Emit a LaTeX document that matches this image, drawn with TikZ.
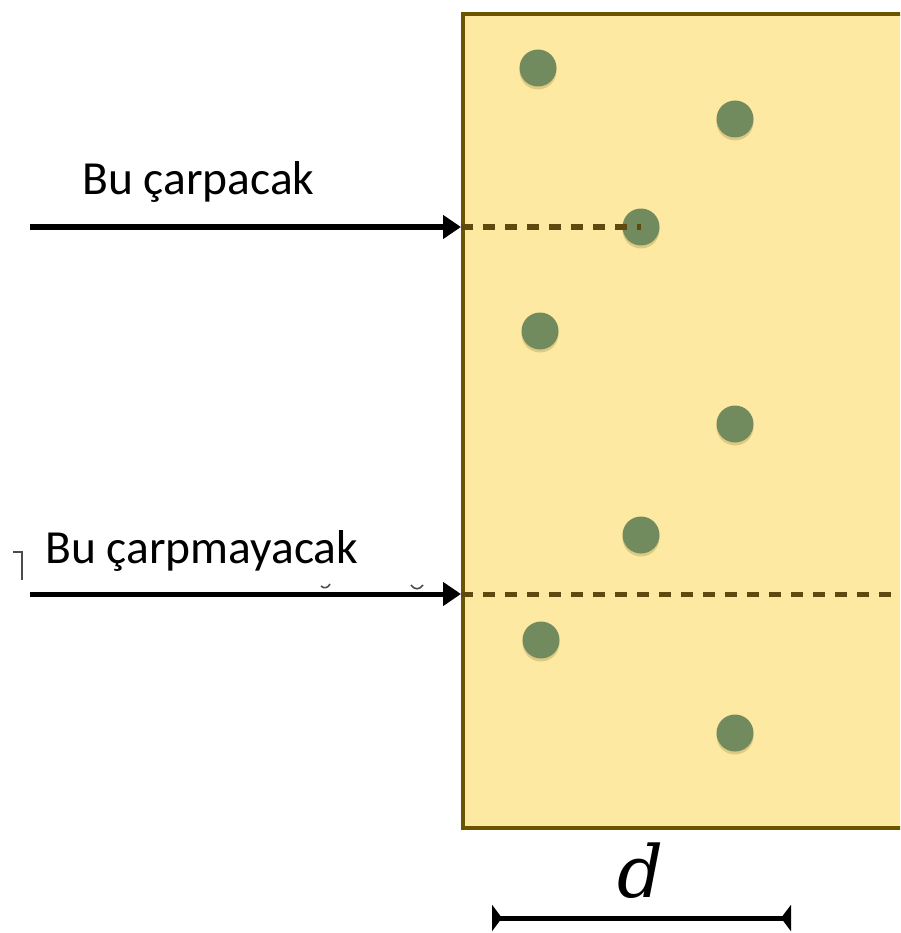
\documentclass[tikz,border=0pt]{standalone}
\usepackage{fontspec}
\setmainfont{Carlito}
\newfontfamily\dfont{DejaVu Serif}
\usetikzlibrary{arrows.meta}
\definecolor{slabfill}{HTML}{FDE9A2}
\definecolor{slabedge}{HTML}{6B5300}
\definecolor{dashcol}{HTML}{5E4A0E}
\definecolor{dotcol}{HTML}{718B5F}
\definecolor{dotshade}{HTML}{C9B56A}
\tikzset{
  atom/.style={circle, fill=dotcol, minimum size=37pt, inner sep=0pt},
  atomshadow/.style={circle, fill=dotshade, opacity=0.6, minimum size=37pt, inner sep=0pt},
  label/.style={font=\fontsize{47.5}{52}\selectfont, inner sep=0pt, anchor=base west},
  ray/.style={line width=5pt, -{Triangle[length=18pt,width=23pt]}},
  path/.style={dashcol, line width=5pt, dash pattern=on 12pt off 10pt},
  ruler/.style={line width=5pt, {Triangle[reversed,length=10pt,width=26pt]}-{Triangle[reversed,length=10pt,width=26pt]}},
  scrap/.style={black!70, line width=1.6pt}
}
\begin{document}
\begin{tikzpicture}[x=1pt,y=-1pt]
\useasboundingbox (0,0) rectangle (900,933);
\begin{scope}
\clip (0,0) rectangle (900,933);
\fill[slabfill] (463,14) rectangle (910,828);
\draw[slabedge, line width=4.5pt] (910,14) -- (463,14) -- (463,828) -- (910,828);
\end{scope}
% entry points and ends
\coordinate (e1) at (461,227);
\coordinate (e2) at (461,594);
\coordinate (s1) at (30,227);
\coordinate (s2) at (30,594);
\coordinate (p2end) at (892,594);
% atoms
\foreach \n/\x/\y in {a1/538/68, a2/735/119, a3/641/227, a4/540/331, a5/735/424, a6/641/535, a7/541/640, a8/735/733}{
  \node[atomshadow] at (\x,\y+3) {};
  \node[atom] (\n) at (\x,\y) {};
}
% dashed paths
\draw[path] (e1) -- (a3.center);
\draw[path] (e2) -- (p2end);
% rays
\draw[ray] (s1) -- (e1);
\draw[ray] (s2) -- (e2);
% labels
\node[label] (t1) at (82,195) {Bu çarpacak};
\node[label] (t2) at (45,563) {Bu çarpmayacak};
% scraps
\draw[scrap] (13,552) -- (22,552) -- (22,580);
\draw[scrap] (321,586) .. controls (324,589) and (328,588) .. (330,584);
\draw[scrap] (411,585) .. controls (414,590) and (420,590) .. (423,585);
% thickness ruler
\node[font=\dfont\itshape\fontsize{72}{72}\selectfont, inner sep=0pt, anchor=base] (d) at (641,897) {d};
\coordinate (r1) at (492,918);
\coordinate (r2) at (791,918);
\draw[ruler] (r1) -- (r2);
\end{tikzpicture}
\end{document}
